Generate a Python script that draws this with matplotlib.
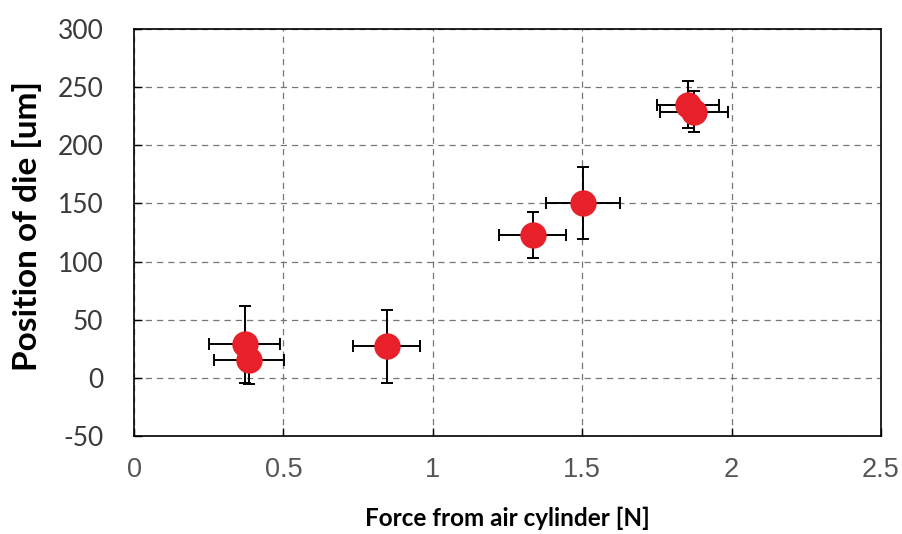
import numpy as np
import matplotlib
matplotlib.use('Agg')
import matplotlib.pyplot as plt

# fuerza aplicada y posicion medida
force = [0.37, 0.385, 0.846, 1.334, 1.502, 1.855, 1.875]
position = [29, 15, 27, 123, 150, 235, 229]
force_err = [0.12, 0.118, 0.112, 0.112, 0.124, 0.104, 0.114]
position_err = [33, 20, 31, 20, 31, 20, 18]

x_ticks = [0, 0.5, 1, 1.5, 2, 2.5]
x_labels = ["0", "0.5", "1", "1.5", "2", "2.5"]
y_ticks = [-50, 0, 50, 100, 150, 200, 250, 300]

plt.rcParams['axes.unicode_minus'] = False

fig = plt.figure(figsize=(9.03, 5.34), dpi=100)
ax = fig.add_axes([0.1484, 0.1835, 0.8272, 0.7622])

eb = ax.errorbar(force, position, xerr=force_err, yerr=position_err,
                 fmt='o', color='#e8202a', markersize=19,
                 ecolor='black', elinewidth=1.4, capsize=4.5, capthick=1.4,
                 zorder=3)
eb[0].set_markeredgewidth(0)

ax.set_xlim(0, 2.5)
ax.set_ylim(-50, 300)
ax.set_xticks(x_ticks)
ax.set_xticklabels(x_labels, family=['Liberation Sans', 'DejaVu Sans'],
                   fontsize=19.5, color='#555555')
ax.set_yticks(y_ticks)
ax.set_yticklabels([str(v) for v in y_ticks], family=['Lato', 'DejaVu Sans'],
                   fontsize=19, color='#3a3a3a')
ax.tick_params(direction='in', length=6, width=1)
ax.tick_params(axis='y', pad=22)
ax.tick_params(axis='x', pad=15)

ax.grid(True, linestyle=(0, (5, 4)), color='#777777', linewidth=0.9)
ax.set_axisbelow(True)
for s in ax.spines.values():
    s.set_linewidth(1.2)

ax.set_xlabel("Force from air cylinder [N]", family=['Lato', 'DejaVu Sans'],
              fontweight='bold', fontsize=17.5, labelpad=17)
ax.set_ylabel("Position of die [um]", family=['Lato', 'DejaVu Sans'],
              fontweight='bold', fontsize=24)
ax.yaxis.set_label_coords(-0.123, 0.516)

fig.savefig('out.png', dpi=100)
